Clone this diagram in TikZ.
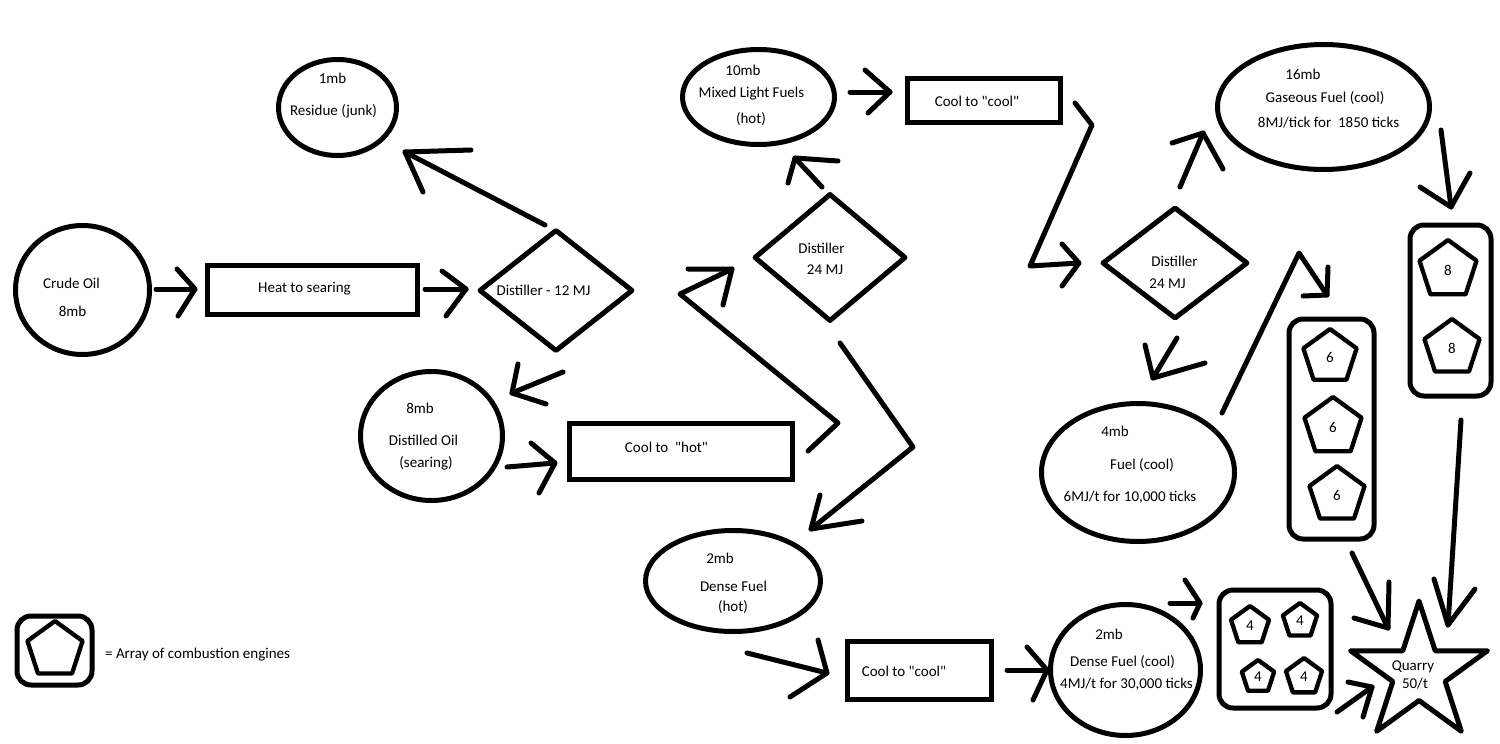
\documentclass[tikz,border=0pt]{standalone}
\usepackage{fontspec}
\setmainfont{Carlito}[Ligatures=TeXOff]
\usetikzlibrary{shapes.geometric}
\begin{document}
\begin{tikzpicture}[x=1pt,y=-1pt,
  lw/.style={line width=5pt, line cap=round, line join=round},
  conn/.style={lw},
  oval/.style={draw, lw, ellipse, inner sep=0pt},
  box/.style={draw, lw, rectangle, inner sep=0pt, line join=miter},
  arraybox/.style={draw, lw, rectangle, rounded corners=14pt, inner sep=0pt},
  dia/.style={draw, lw, diamond, inner sep=0pt},
  pent/.style={draw, line width=4.3pt, line join=round, regular polygon, regular polygon sides=5, inner sep=0pt, font=\fontsize{15}{18}\selectfont},
  txt/.style={inner sep=0pt, text height=10pt, text depth=3pt, font=\fontsize{15}{18}\selectfont},
]
\useasboundingbox[fill=white] (0,0) rectangle (1500,744);
\newcommand\handarrow[4]{\draw[conn] #1 -- #2; \draw[conn] #3 -- #2 -- #4;}

% ---------- shapes ----------
\node[oval, minimum width=134pt, minimum height=129pt] (crude) at (82.5,290) {};
\node[box, minimum width=210pt, minimum height=49pt] (heat) at (312,289.5) {};
\node[dia, minimum width=154pt, minimum height=122pt] (dist1) at (556,290.5) {};
\node[oval, minimum width=118pt, minimum height=96pt] (residue) at (337.5,107.5) {};
\node[oval, minimum width=142pt, minimum height=129pt] (distoil) at (431.5,436) {};
\node[box, minimum width=223pt, minimum height=56pt] (coolhot) at (680.5,451) {};
\node[dia, minimum width=152pt, minimum height=128pt] (dist2) at (830,257.5) {};
\node[oval, minimum width=152pt, minimum height=95pt] (mixed) at (758.5,97) {};
\node[box, minimum width=153pt, minimum height=44pt] (cooltop) at (983.5,100) {};
\node[oval, minimum width=175pt, minimum height=101pt] (densehot) at (733,581) {};
\node[box, minimum width=144pt, minimum height=58pt] (coolbot) at (919,670) {};
\node[dia, minimum width=146pt, minimum height=112pt] (dist3) at (1175,263) {};
\node[oval, minimum width=212pt, minimum height=125pt] (gas) at (1323.5,107) {};
\node[oval, minimum width=193pt, minimum height=138pt] (fuel) at (1138,472.5) {};
\node[oval, minimum width=150pt, minimum height=131pt] (densecool) at (1125.5,670) {};

\node[arraybox, minimum width=81pt, minimum height=171pt] (arr8) at (1450.5,310.5) {};
\node[arraybox, minimum width=85pt, minimum height=220pt] (arr6) at (1331.5,429) {};
\node[arraybox, minimum width=112pt, minimum height=118pt] (arr4) at (1275,649) {};
\node[arraybox, minimum width=75pt, minimum height=69pt] (legendbox) at (54.5,650.5) {};

\node[pent, minimum size=60pt] (p8a) at (1448,270) {8};
\node[pent, minimum size=58pt] (p8b) at (1452,348) {8};
\node[pent, minimum size=56pt] (p6a) at (1330,357) {6};
\node[pent, minimum size=60pt] (p6b) at (1333,427) {6};
\node[pent, minimum size=58pt] (p6c) at (1337,495) {6};
\node[pent, minimum size=40pt] (p4a) at (1250,626) {4};
\node[pent, minimum size=36pt] (p4b) at (1300,621) {4};
\node[pent, minimum size=34pt] (p4c) at (1258,677) {4};
\node[pent, minimum size=38pt] (p4d) at (1304,677) {4};
\node[pent, minimum size=58pt] (plegend) at (55,650) {};

\node[draw, lw, star, star points=5, star point ratio=2.618, minimum size=144pt, inner sep=0pt] (quarry) at (1419,673) {};

% ---------- texts ----------
\node[txt] (t1) at (71.5,285) {Crude Oil};
\node[txt] (t2) at (72.5,313) {8mb};
\node[txt] (t3) at (304.5,289) {Heat to searing};
\node[txt] (t4) at (543.5,292) {Distiller - 12 MJ};
\node[txt] (t5) at (332.5,80) {1mb};
\node[txt] (t6) at (333.5,112) {Residue (junk)};
\node[txt] (t7) at (420,410) {8mb};
\node[txt] (t8) at (423.5,442) {Distilled Oil};
\node[txt] (t9) at (426,464) {(searing)};
\node[txt] (t10) at (666.5,449) {Cool to\ \ "hot"};
\node[txt] (t11) at (821.5,250) {Distiller};
\node[txt] (t12) at (825,271) {24 MJ};
\node[txt] (t13) at (743,72) {10mb};
\node[txt] (t14) at (751.5,94) {Mixed Light Fuels};
\node[txt] (t15) at (751,120) {(hot)};
\node[txt] (t16) at (977,103) {Cool to "cool"};
\node[txt] (t17) at (1174.5,263) {Distiller};
\node[txt] (t18) at (1167.5,285) {24 MJ};
\node[txt] (t19) at (1303,76) {16mb};
\node[txt] (t20) at (1325,99) {Gaseous Fuel (cool)};
\node[txt] (t21) at (1328.5,124) {8MJ/tick for\ \ 1850 ticks};
\node[txt] (t22) at (1115,433) {4mb};
\node[txt] (t23) at (1142,466) {Fuel (cool)};
\node[txt] (t24) at (1130,498) {6MJ/t for 10,000 ticks};
\node[txt] (t25) at (1109,636) {2mb};
\node[txt] (t26) at (1122.5,663) {Dense Fuel (cool)};
\node[txt] (t27) at (1126.5,685) {4MJ/t for 30,000 ticks};
\node[txt] (t28) at (1413,667) {Quarry};
\node[txt] (t29) at (1415,685) {50/t};
\node[txt] (t30) at (904,673) {Cool to "cool"};
\node[txt] (t31) at (720,560) {2mb};
\node[txt] (t32) at (733.5,588) {Dense Fuel};
\node[txt] (t33) at (733,608) {(hot)};
\node[txt, anchor=west] (t34) at (105,655) {= Array of combustion engines};

% ---------- hand-drawn arrows ----------
\handarrow{(156,289)}{(195,289)}{(177,269)}{(178,316)}
\handarrow{(425,289)}{(466,289)}{(442,271)}{(446,316)}
\handarrow{(545,225)}{(405,152)}{(471,150)}{(423,192)}
\handarrow{(563,372)}{(512,393)}{(518,364)}{(546,404)}
\handarrow{(507,467)}{(555,463)}{(531,443)}{(539,493)}
\handarrow{(808,451) -- (838,423) -- (680,294)}{(732,269)}{(688,269)}{(723,305)}
\handarrow{(822,187)}{(795,158)}{(838,161)}{(788,183)}
\handarrow{(850,92)}{(890,92)}{(865,70)}{(868,113)}
\handarrow{(1075,103) -- (1092,125) -- (1030,266)}{(1079,263)}{(1062,244)}{(1062,286)}
\handarrow{(1180,187)}{(1203,133)}{(1172,143)}{(1223,169)}
\handarrow{(1441,130)}{(1451,207)}{(1420,187)}{(1470,173)}
\handarrow{(1177,338)}{(1153,378)}{(1145,345)}{(1205,363)}
\handarrow{(1222,413) -- (1299,253)}{(1327,295)}{(1328,267)}{(1303,296)}
\handarrow{(1352,553)}{(1388,628)}{(1389,582)}{(1354,618)}
\handarrow{(1461,420)}{(1448,625)}{(1434,579)}{(1475,589)}
\handarrow{(1170,603)}{(1200,603)}{(1185,580)}{(1193,618)}
\handarrow{(1337,712)}{(1372,687)}{(1348,682)}{(1363,717)}
\handarrow{(1007,670)}{(1047,670)}{(1027,647)}{(1033,700)}
\handarrow{(747,653)}{(827,673)}{(818,640)}{(790,697)}
\handarrow{(840,343) -- (913,447)}{(811,529)}{(820,495)}{(862,521)}
\end{tikzpicture}
\end{document}
